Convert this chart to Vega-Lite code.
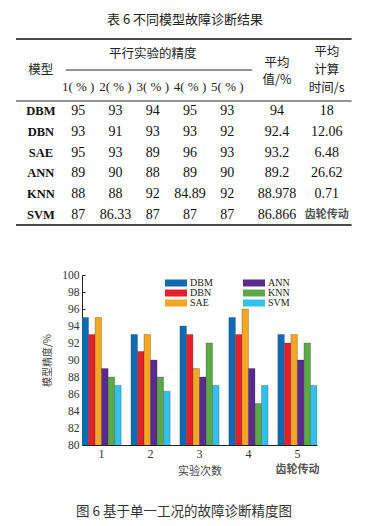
{
  "$schema": "https://vega.github.io/schema/vega-lite/v6.json",
  "autosize": {"type": "pad"},
  "padding": {"left": 15, "top": 14, "right": 19, "bottom": 0},
  "background": "white",
  "bounds": "flush",
  "spacing": 50,
  "resolve": {"legend": {"color": "independent"}},
  "config": {"view": {"stroke": null}, "font": "Liberation Serif"},
  "datasets": {
    "results": [
      {"model": "DBM", "1": 95, "2": 93, "3": 94, "4": 95, "5": 93, "avg": 94, "time": 18},
      {"model": "DBN", "1": 93, "2": 91, "3": 93, "4": 93, "5": 92, "avg": 92.4, "time": 12.06},
      {"model": "SAE", "1": 95, "2": 93, "3": 89, "4": 96, "5": 93, "avg": 93.2, "time": 6.48},
      {"model": "ANN", "1": 89, "2": 90, "3": 88, "4": 89, "5": 90, "avg": 89.2, "time": 26.62},
      {"model": "KNN", "1": 88, "2": 88, "3": 92, "4": 84.89, "5": 92, "avg": 88.978, "time": 0.71},
      {"model": "SVM", "1": 87, "2": 86.33, "3": 87, "4": 87, "5": 87, "avg": 86.866, "time": null}
    ]
  },
  "vconcat": [
    {
      "width": 235,
      "height": 186,
      "title": {"text": "表 6 不同模型故障诊断结果", "font": "Noto Sans CJK SC", "fontSize": 13, "fontWeight": "normal", "color": "#222", "offset": 11, "dx": -14.5},
      "layer": [
        {
          "data": {"name": "results"},
          "transform": [
            {"fold": ["1", "2", "3", "4", "5", "avg", "time"], "as": ["col", "val"]},
            {"filter": "isValid(datum.val)"}
          ],
          "mark": {"type": "text", "font": "Liberation Serif", "fontSize": 14, "color": "#111", "baseline": "middle"},
          "encoding": {
            "x": {"field": "col", "type": "nominal", "axis": null, "scale": {"type": "point", "domain": ["edgeL","g1","model","g2","ruleL","1","g3","g4","2","g5","g6","3","g7","g8","4","g9","g10","5","g11","ruleR","g12","avg","g13","g14","g15","time","g16","edgeR"], "range": [-66, 269.6], "padding": 0}},
            "y": {"field": "model", "type": "nominal", "axis": null, "scale": {"type": "band", "domain": ["h1","h2","h3","DBM","DBN","SAE","ANN","KNN","SVM"], "paddingInner": 0, "paddingOuter": 0}},
            "text": {"field": "val", "type": "nominal"}
          }
        },
        {
          "data": {"name": "results"},
          "mark": {"type": "text", "font": "Liberation Serif", "fontSize": 12.5, "fontWeight": "bold", "color": "#111", "baseline": "middle"},
          "encoding": {
            "x": {"datum": "model", "type": "nominal"},
            "y": {"field": "model", "type": "nominal"},
            "text": {"field": "model", "type": "nominal"}
          }
        },
        {
          "data": {"values": [{"row": "h1", "col": "3", "text": "平行实验的精度"}]},
          "mark": {"type": "text", "font": "Noto Sans CJK SC", "fontSize": 12.5, "color": "#222", "baseline": "middle", "dy": 5},
          "encoding": {
            "x": {"field": "col", "type": "nominal"},
            "y": {"field": "row", "type": "nominal"},
            "text": {"field": "text", "type": "nominal"}
          }
        },
        {
          "data": {"values": [{"row": "h2", "col": "model", "text": "模型"}]},
          "mark": {"type": "text", "font": "Noto Sans CJK SC", "fontSize": 12.5, "color": "#222", "baseline": "middle"},
          "encoding": {
            "x": {"field": "col", "type": "nominal"},
            "y": {"field": "row", "type": "nominal"},
            "text": {"field": "text", "type": "nominal"}
          }
        },
        {
          "data": {"values": [{"row": "h2", "col": "avg", "text": "平均\n值/%"}]},
          "mark": {"type": "text", "font": "Noto Sans CJK SC", "fontSize": 12.5, "color": "#222", "baseline": "middle", "lineBreak": "\n", "lineHeight": 17, "dy": -7},
          "encoding": {
            "x": {"field": "col", "type": "nominal"},
            "y": {"field": "row", "type": "nominal"},
            "text": {"field": "text", "type": "nominal"}
          }
        },
        {
          "data": {"values": [{"row": "h2", "col": "time", "text": "平均\n计算\n时间/s"}]},
          "mark": {"type": "text", "font": "Noto Sans CJK SC", "fontSize": 12.5, "color": "#222", "baseline": "middle", "lineBreak": "\n", "lineHeight": 18, "dy": -18},
          "encoding": {
            "x": {"field": "col", "type": "nominal"},
            "y": {"field": "row", "type": "nominal"},
            "text": {"field": "text", "type": "nominal"}
          }
        },
        {
          "data": {"values": [
            {"row": "h3", "col": "1", "text": "1( % )"},
            {"row": "h3", "col": "2", "text": "2( % )"},
            {"row": "h3", "col": "3", "text": "3( % )"},
            {"row": "h3", "col": "4", "text": "4( % )"},
            {"row": "h3", "col": "5", "text": "5( % )"}
          ]},
          "mark": {"type": "text", "font": "Liberation Serif", "fontSize": 13, "color": "#222", "baseline": "middle", "dy": -4},
          "encoding": {
            "x": {"field": "col", "type": "nominal"},
            "y": {"field": "row", "type": "nominal"},
            "text": {"field": "text", "type": "nominal"}
          }
        },
        {
          "data": {"values": [{"row": "SVM", "col": "time", "text": "齿轮传动"}]},
          "mark": {"type": "text", "font": "Noto Sans CJK SC", "fontSize": 11, "fontWeight": "bold", "color": "#555", "baseline": "middle"},
          "encoding": {
            "x": {"field": "col", "type": "nominal"},
            "y": {"field": "row", "type": "nominal"},
            "text": {"field": "text", "type": "nominal"}
          }
        },
        {
          "data": {"values": [{}]},
          "mark": {"type": "rule", "color": "#111", "strokeWidth": 1.4},
          "encoding": {
            "x": {"datum": "edgeL", "type": "nominal"},
            "x2": {"datum": "edgeR"},
            "y": {"datum": "h1", "type": "nominal", "bandPosition": 0}
          }
        },
        {
          "data": {"values": [{}]},
          "mark": {"type": "rule", "color": "#111", "strokeWidth": 0.9},
          "encoding": {
            "x": {"datum": "edgeL", "type": "nominal"},
            "x2": {"datum": "edgeR"},
            "y": {"datum": "DBM", "type": "nominal", "bandPosition": 0}
          }
        },
        {
          "data": {"values": [{}]},
          "mark": {"type": "rule", "color": "#111", "strokeWidth": 1.4},
          "encoding": {
            "x": {"datum": "edgeL", "type": "nominal"},
            "x2": {"datum": "edgeR"},
            "y": {"datum": "SVM", "type": "nominal", "bandPosition": 1}
          }
        },
        {
          "data": {"values": [{}]},
          "mark": {"type": "rule", "color": "#111", "strokeWidth": 0.9},
          "encoding": {
            "x": {"datum": "ruleL", "type": "nominal"},
            "x2": {"datum": "ruleR"},
            "y": {"datum": "h2", "type": "nominal", "bandPosition": 0.5}
          }
        }
      ]
    },
    {
      "width": 235,
      "height": 170,
      "title": {"text": "图 6 基于单一工况的故障诊断精度图", "orient": "bottom", "font": "Noto Sans CJK SC", "fontSize": 13.5, "fontWeight": "normal", "color": "#333", "offset": 29, "dx": -15.5},
      "layer": [
        {
          "data": {"name": "results"},
          "transform": [{"fold": ["1", "2", "3", "4", "5"], "as": ["exp", "acc"]}],
          "mark": {"type": "bar", "clip": true, "stroke": "#333", "strokeWidth": 0.4, "strokeOpacity": 0.7},
          "encoding": {
            "x": {"field": "exp", "type": "nominal", "scale": {"paddingInner": 0.2, "paddingOuter": 0},
              "axis": {"title": "实验次数", "titleFont": "Noto Sans CJK SC", "titleFontSize": 11, "titleFontWeight": "normal", "titleColor": "#444", "titlePadding": 6, "labelAngle": 0, "labelFont": "Liberation Serif", "labelFontSize": 12, "labelColor": "#333", "ticks": false, "labelPadding": 3, "domainColor": "#222"}},
            "xOffset": {"field": "model", "type": "nominal", "sort": ["DBM", "DBN", "SAE", "ANN", "KNN", "SVM"], "scale": {"paddingInner": 0}},
            "y": {"field": "acc", "type": "quantitative", "scale": {"domain": [80, 100], "nice": false, "zero": false},
              "axis": {"values": [80, 82, 84, 86, 88, 90, 92, 94, 96, 98, 100], "tickCount": 11, "labelOverlap": false, "title": "模型精度/%", "titleFont": "Noto Sans CJK SC", "titleFontSize": 10, "titleFontWeight": "normal", "titleColor": "#444", "titlePadding": 9, "labelFont": "Liberation Serif", "labelFontSize": 11.5, "labelColor": "#333", "grid": false, "domainColor": "#222", "tickColor": "#222", "tickSize": -3, "labelPadding": 6}},
            "color": {"field": "model", "type": "nominal",
              "scale": {"domain": ["DBM", "DBN", "SAE", "ANN", "KNN", "SVM"], "range": ["#0f6ab4", "#e4202a", "#f5a623", "#5b2a8e", "#5aa846", "#33c0ea"]},
              "legend": {"orient": "none", "legendX": 89, "legendY": 3, "columns": 2, "title": null, "symbolType": "M-2.2,-0.7H2.2V0.7H-2.2Z", "symbolSize": 100, "symbolStrokeWidth": 0, "labelFont": "Liberation Serif", "labelFontSize": 10, "labelColor": "#222", "labelOffset": 9, "rowPadding": -2, "columnPadding": 30}}
          }
        },
        {
          "data": {"values": [{"text": "齿轮传动"}]},
          "mark": {"type": "text", "font": "Noto Sans CJK SC", "fontSize": 11, "fontWeight": "bold", "color": "#555", "baseline": "middle", "dy": 25},
          "encoding": {
            "x": {"datum": "5", "type": "nominal"},
            "y": {"datum": 80, "type": "quantitative"},
            "text": {"field": "text", "type": "nominal"}
          }
        }
      ]
    }
  ]
}
